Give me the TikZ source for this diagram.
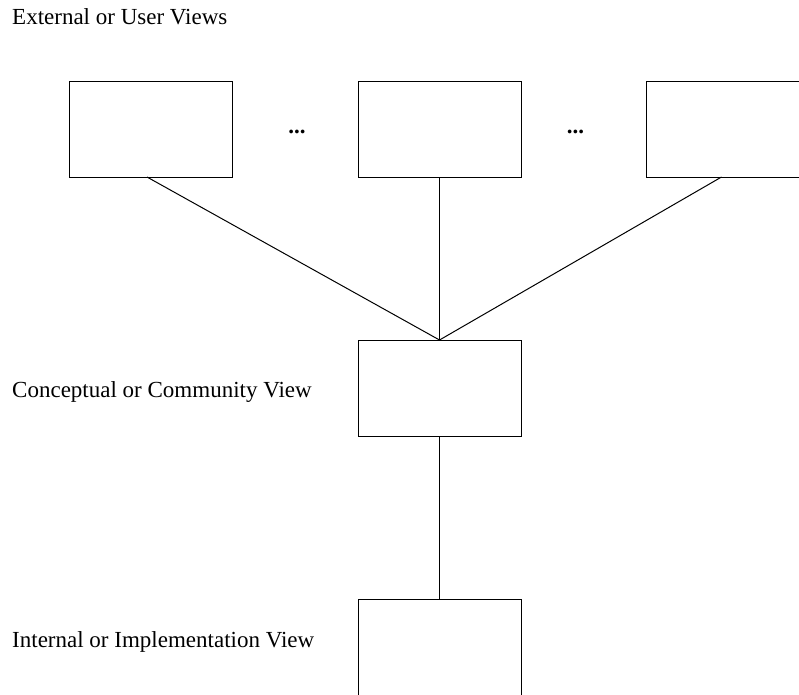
\documentclass[tikz,border=0pt]{standalone}
\usepackage{fontspec}
\setmainfont{Liberation Serif}
\usetikzlibrary{calc}
\begin{document}
\begin{tikzpicture}[x=1pt,y=-1pt,
  viewbox/.style={draw=black,line width=1pt,minimum width=163pt,minimum height=96pt,inner sep=0pt,outer sep=0pt},
  label/.style={font=\fontsize{23}{27}\selectfont,anchor=base west,inner sep=0pt},
  dots/.style={font=\fontsize{23}{27}\selectfont\bfseries,anchor=base,inner sep=0pt},
  link/.style={line width=1pt,draw=black}]
\clip (0,0) rectangle (799,694);
\useasboundingbox (0,0) rectangle (799,694);
\node[label] (t1) at (12,24) {External or User Views};
\node[label] (t2) at (12,397) {Conceptual or Community View};
\node[label] (t3) at (12,647) {Internal or Implementation View};
\node[viewbox] (b1) at (151,129) {};
\node[viewbox] (b2) at (439.5,129) {};
\node[viewbox] (b3) at (727.5,129) {};
\node[viewbox] (c) at (439.5,388) {};
\node[viewbox] (i) at (439.5,647) {};
\node[dots] (d1) at (297,133.5) {...};
\node[dots] (d2) at (575.5,133.5) {...};
\coordinate (m) at (c.north);
\draw[link] ($(b1.south)+(-4,0)$) -- (m);
\draw[link] (b2.south) -- (m);
\draw[link] ($(b3.south)+(-6,0)$) -- (m);
\draw[link] (c.south) -- (i.north);
\end{tikzpicture}
\end{document}
